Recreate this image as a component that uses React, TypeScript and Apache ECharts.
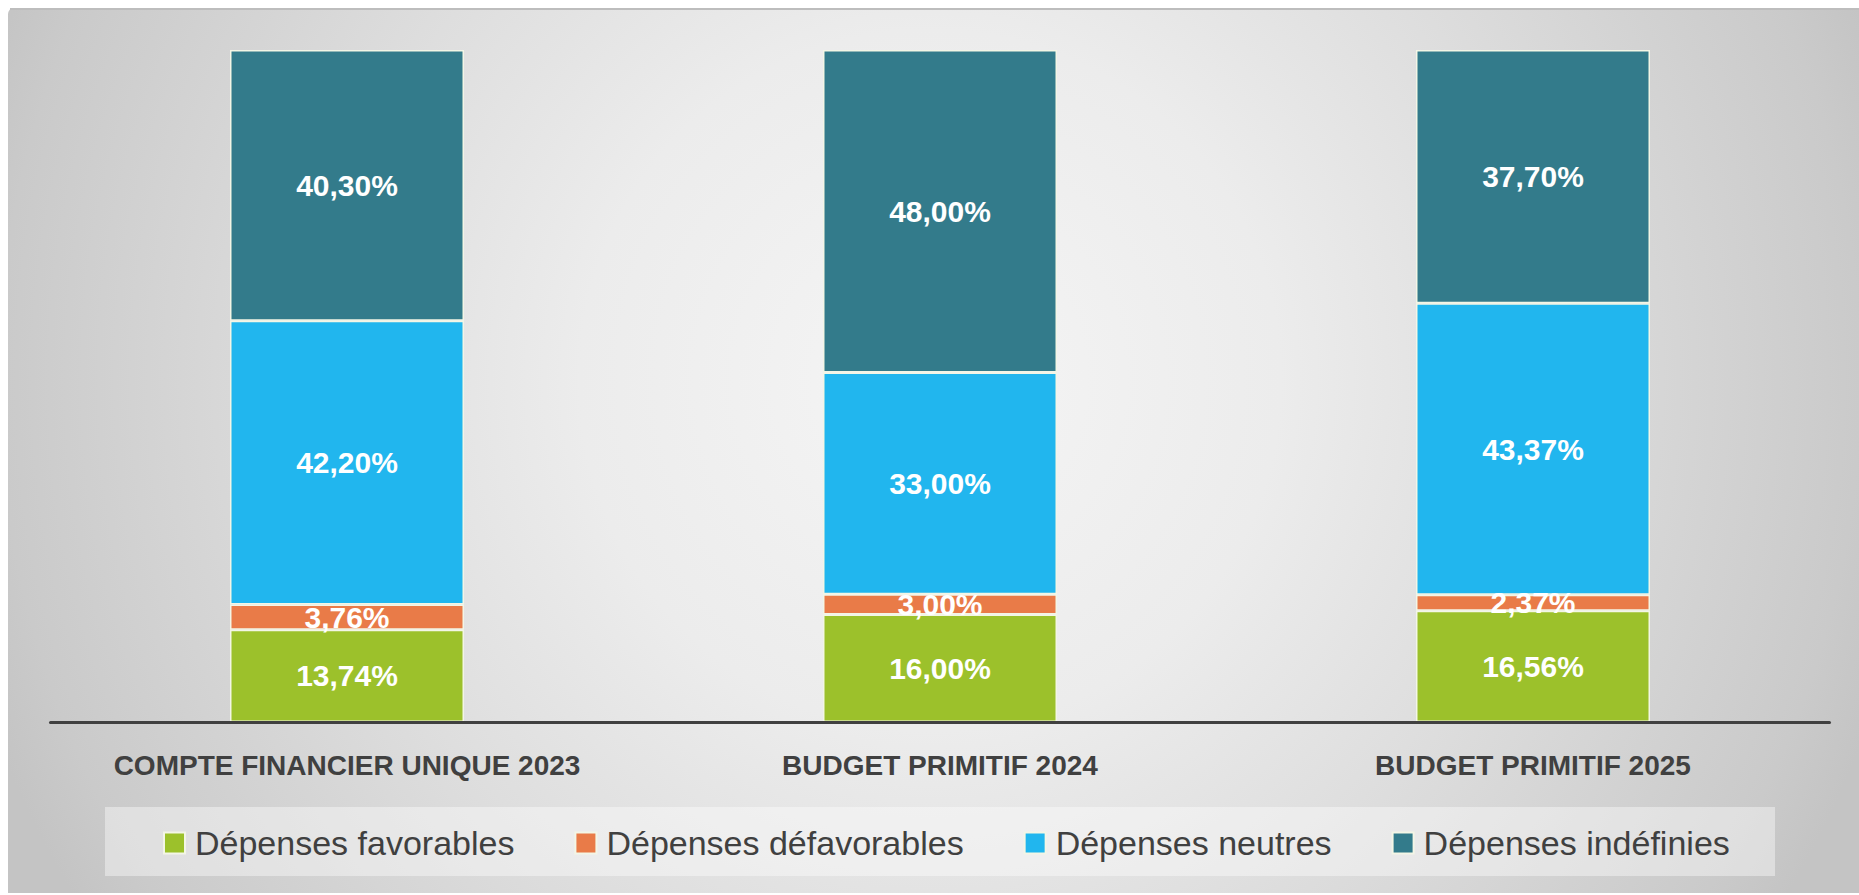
import React, { useEffect, useRef } from "react";
import * as echarts from "echarts";

const categories = ["COMPTE FINANCIER UNIQUE 2023", "BUDGET PRIMITIF 2024", "BUDGET PRIMITIF 2025"];
const seriesNames = ["Dépenses favorables", "Dépenses défavorables", "Dépenses neutres", "Dépenses indéfinies"];
const favorables = [13.74, 16.0, 16.56];
const defavorables = [3.76, 3.0, 2.37];
const neutres = [42.2, 33.0, 43.37];
const indefinies = [40.3, 48.0, 37.7];
const colors = ["#9cc12b", "#e97b48", "#21b6ee", "#337b8b"];

const fmt = (v: number) => v.toFixed(2).replace(".", ",") + "%";

export default function App() {
  const ref = useRef<HTMLDivElement>(null);
  useEffect(() => {
    if (!ref.current) return;
    const chart = echarts.init(ref.current, undefined, { renderer: "svg" });
    const values = [favorables, defavorables, neutres, indefinies];
    chart.setOption({
      animation: false,
      backgroundColor: "#ffffff",
      graphic: [
        {
          type: "rect",
          z: -10,
          silent: true,
          shape: { x: 8, y: 8, width: 1851, height: 885, r: [6, 0, 0, 0] },
          style: {
            fill: {
              type: "radial",
              x: 930,
              y: 380,
              r: 1000,
              global: true,
              colorStops: [
                { offset: 0, color: "#f5f5f5" },
                { offset: 0.35, color: "#ececec" },
                { offset: 0.6, color: "#dedede" },
                { offset: 0.93, color: "#cacaca" },
                { offset: 1, color: "#c4c4c4" },
              ],
            },
          },
        },
        {
          type: "rect",
          z: -9,
          silent: true,
          shape: { x: 10, y: 8, width: 1849, height: 2 },
          style: { fill: "#bdbdbd" },
        },
        {
          type: "rect",
          z: -8,
          silent: true,
          shape: { x: 105, y: 807, width: 1670, height: 69 },
          style: { fill: "rgba(255,255,255,0.4)" },
        },
      ],
      grid: { left: 50.5, right: 29.5, top: 50, bottom: 173, containLabel: false },
      legend: {
        data: seriesNames,
        left: 163,
        top: 826,
        padding: 0,
        itemWidth: 21,
        itemHeight: 21,
        itemGap: 60,
        icon: "rect",
        textStyle: {
          fontFamily: "Liberation Sans, Arial, sans-serif",
          fontSize: 34,
          color: "#404040",
          padding: [0, 0, 0, 5],
        },
      },
      xAxis: {
        type: "category",
        data: categories,
        axisLine: { show: true, lineStyle: { color: "#404040", width: 3 } },
        axisTick: { show: false },
        axisLabel: {
          interval: 0,
          hideOverlap: false,
          margin: 29,
          fontFamily: "Liberation Sans, Arial, sans-serif",
          fontSize: 28,
          fontWeight: "bold",
          color: "#404040",
        },
        splitLine: { show: false },
        z: 5,
      },
      yAxis: {
        type: "value",
        min: 0,
        max: 100,
        show: false,
        splitLine: { show: false },
      },
      series: seriesNames.map((name, i) => ({
        name,
        type: "bar",
        stack: "total",
        barWidth: 234,
        data: values[i],
        itemStyle: { color: colors[i], borderColor: "#f3f6e6", borderWidth: 1.5 },
        label: {
          show: true,
          position: "inside",
          formatter: (p: any) => fmt(p.value),
          fontFamily: "Liberation Sans, Arial, sans-serif",
          fontSize: 30,
          fontWeight: "bold",
          color: "#ffffff",
        },
      })),
    });
    return () => chart.dispose();
  }, []);
  return (
    <div
      ref={ref}
      style={{ position: "absolute", left: 0, top: 0, width: 1859, height: 895 }}
    />
  );
}
